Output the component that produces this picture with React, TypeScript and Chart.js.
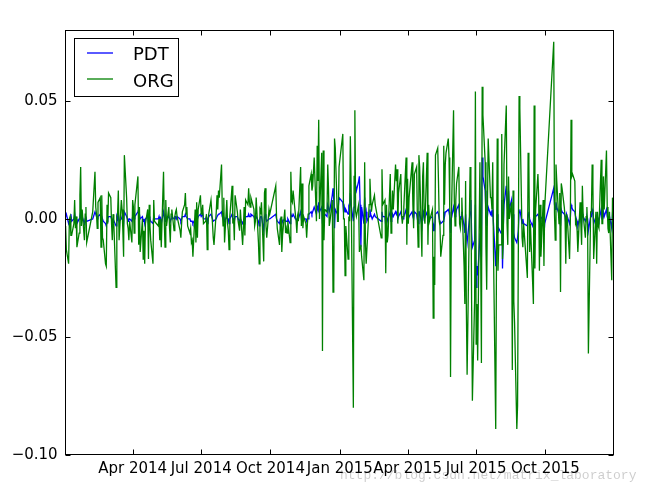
import React, { useEffect, useRef } from "react";
import { Chart, registerables } from "chart.js";

Chart.register(...registerables);

// ---------- data ----------
const SERIES_LABELS = ["PDT", "ORG"];
const SERIES_COLORS = ["#0000ff", "#008000"];

const FIRST_DAY = "2014-01-02";
const LAST_DAY = "2015-12-31";

// market closures (plus two days missing in the data after the October 2015 holiday)
const HOLIDAYS = [
  "2014-01-01", "2014-01-31", "2014-02-03", "2014-02-04", "2014-02-05", "2014-02-06",
  "2014-04-07", "2014-05-01", "2014-05-02", "2014-06-02", "2014-09-08",
  "2014-10-01", "2014-10-02", "2014-10-03", "2014-10-06", "2014-10-07",
  "2015-01-01", "2015-01-02", "2015-02-18", "2015-02-19", "2015-02-20", "2015-02-23", "2015-02-24",
  "2015-04-06", "2015-05-01", "2015-06-22", "2015-09-03", "2015-09-04",
  "2015-10-01", "2015-10-02", "2015-10-05", "2015-10-06", "2015-10-07", "2015-10-08", "2015-10-09",
];

const X_TICK_DATES = ["2014-04-01", "2014-07-01", "2014-10-01", "2015-01-01", "2015-04-01", "2015-07-01", "2015-10-01"];
const X_TICK_LABELS = ["Apr 2014", "Jul 2014", "Oct 2014", "Jan 2015", "Apr 2015", "Jul 2015", "Oct 2015"];
const Y_TICKS = [-0.1, -0.05, 0, 0.05];
const Y_MIN = -0.1;
const Y_MAX = 0.08;

// values in thousandths, one list per month (trading days in order)
const ORG_2014 = [
  [-3, -13, -19, 0, 1, -7, -7, -2, 8, -4, 1, -12, -6, 10, 22, -3, 4, -9, 2, 5, -10],
  [3, 20, 5, 2, -4, 7, 9, -12, 10, -8, -9, -19, -20, 6, -2, 11],
  [9, -2, -9, 2, -2, -29, 1, 2, 12, -9, 8, 4, -5, -16, 27, 9, -2, -4, -9, -1, -10],
  [8, 5, -6, 6, 18, -11, 5, -14, 0, -17, -5, -19, -2, 4, -17, 6, -3, -9, -19, 8, -1],
  [-3, 0, -9, 0, -12, 20, -1, -12, 8, -3, 5, -4, -10, 2, 4, -5, 1, 3, 4, 1],
  [-5, -8, -2, 3, 6, 11, 2, 5, -3, -6, -4, -10, -9, -16, 4, -10, 7, -8, 4, 10],
  [2, 3, 6, -2, -1, 2, -13, -2, 2, 8, 3, -2, -8, -11, 3, 10, 4, 12, 9, 23, 4, -3, 9],
  [-10, 8, -2, -5, -13, 1, 14, -2, 0, -9, 10, 3, -1, -3, -5, 4, -11, -4, 5, -7, 8],
  [6, 13, 7, 5, 9, 4, -3, -1, 9, -10, -19, 4, 3, 7, -18, 11, 13, -3, -8, 4, 2],
  [14, 1, -4, -11, -2, 1, -14, -7, 4, -6, -4, -6, -1, -10, 20, 8, 7, 12],
  [2, -1, -6, 1, -1, 22, -3, 15, -4, 1, -2, -8, -2, 2, 14, 19, 12, 14, 20, 26],
  [-1, 31, 16, 42, 0, 28, -56, 29, -9, 4, 3, 23, 13, -3, -1, 8, -31, -29, 34, 30, -1, -1, 22],
];

const ORG_2015 = [
  [36, 0, 0, -24, -3, -17, 1, -1, 35, 14, -80, 18, 46, 3, 1, 6, -14, -12, -11, -16],
  [-26, 24, -10, -19, -19, 6, 17, 9, 3, 6, 10, 6, -8, 21, 6],
  [8, -23, 6, -10, -7, 19, -6, 2, 12, 4, 23, 16, 21, -2, 11, 19, 2, -2, 1, 5, 26, -11],
  [17, -2, 9, 24, 6, -4, 19, 22, 0, -12, 27, 22, -16, 18, 24, 1, -2, 28, -11, 6, -1],
  [4, -42, -16, -28, 27, 30, 16, -1, -3, -16, -7, 31, 6, 23, 28, 34, 26, 3, -67, -2],
  [46, 8, -3, 8, 15, 22, -2, -4, 0, 9, -20, -36, 16, -38, -66, 22, 18, -36, -77, -34, 54],
  [-53, -36, -60, 24, -13, -61, 56, 44, 24, -12, -30, 5, 34, 9, 9, 4, 24, -13, -89, -17, 34, -22, -11],
  [-11, 36, -17, -10, 23, 48, -2, -11, 18, 0, 7, -64, 12, -35, -44, -89, -79, -13, 52, 47, -8],
  [-12, -2, -25, 28, 23, -14, -2, -27, -36, 48, -21, 4, 19, 9, -22, 6, -16, 8, -20, 5],
  [75, 2, -9, 23, 16, -2, 11, -31, 15, 13, 5, 1, -19, 2, 0],
  [-17, -2, 42, 18, 19, 16, -2, -1, -5, -14, 7, -2, -11, 14, 2, -8, 1, 5, -4, -57, 3],
  [3, 23, 14, -17, 3, -19, 3, -3, -4, 25, -2, -2, 18, 4, 29, 5, -4, -6, 3, -26, 9, 0, -9],
];

const PDT_2014 = [
  [1, 2, -2, -1, 0, 2, -1, 0, 2, -1, 0, -2, 0, 1, 3, 0, 1, -2, 0, 1, -1],
  [0, 3, 2, 1, 0, 1, 2, -1, 1, 0, -1, -2, -3, -1, 0, 1],
  [1, 0, -1, 0, 0, -3, 1, 0, 2, -1, 0, 1, 0, -2, 3, 1, 0, -1, 0, 0, -1],
  [1, 2, 0, 1, 3, 4, 2, 0, 1, -1, 0, -2, 0, 1, -2, 1, 0, -1, -2, 1, 0],
  [0, 1, -1, 0, -2, 3, 1, -1, 1, 0, 1, 0, -1, 0, 1, 0, 1, 1, 0, 1],
  [0, -1, 0, 1, 1, 2, 1, 1, 0, 0, -1, -1, -1, -2, 0, -1, 1, 0, 1, 2],
  [1, 1, 2, 0, 0, 1, -2, 0, 1, 2, 1, 0, -1, -1, 0, 1, 1, 2, 2, 3, 1, 0, 1],
  [-1, 1, 0, 0, -2, 0, 2, 0, 0, -1, 1, 1, 0, 0, -1, 0, -2, -1, 0, -1, 1],
  [1, 2, 1, 1, 2, 1, 0, 0, 1, -1, -3, 0, 1, 1, -5, 1, 2, 0, -1, 0, 0],
  [2, 0, -1, -2, 0, 0, -2, -1, 0, -1, -1, -1, 0, -2, 2, 1, 1, 2],
  [0, 0, -1, 0, 0, 3, 0, 2, 0, 0, 0, -1, 0, 0, 2, 3, 2, 3, 4, 5],
  [2, 5, 4, 7, 3, 5, -2, 3, 1, 2, 1, 6, 5, 3, 4, 10, 13, 8, -4, 4, 2, 5, 9],
];

const PDT_2015 = [
  [7, 3, 5, 3, 4, 2, 5, 4, 11, 6, -1, 5, 10, 14, 12, 16, 18, 6, -12, 5],
  [-2, 9, 1, 3, -1, 1, 4, 2, 1, 0, 2, 1, -1, 3, 1],
  [1, -3, 1, -1, 0, 3, -1, 0, 2, 1, 3, 2, 3, 0, 1, 3, 1, 0, 0, 1, 4, -1],
  [2, 0, 1, 3, 1, 0, 3, 2, 0, -2, 3, 3, -3, 2, 3, 0, 0, 3, -2, 1, 0],
  [1, -5, -3, -4, 2, 3, 2, 0, 0, -2, -1, 3, 1, 3, 3, 4, 3, 1, -6, 0],
  [5, 3, 1, 2, 4, 6, 1, 0, 1, 3, -3, -6, 2, -7, -10, 3, 8, -6, -12, -9, 6],
  [-29, -20, -24, -8, -10, -16, 26, 18, 12, 2, -3, 1, 5, 2, 3, 1, 4, -2, -20, -12, 2, -6, -4],
  [-6, 8, -21, -4, 6, 14, 6, 3, 12, 4, 8, -10, 2, -6, -8, -10, -8, -5, 3, 4, -2],
  [0, -2, -3, 2, 3, 0, -1, -3, -1, 4, 0, 1, 2, 1, -1, 1, 0, 1, -7, -2],
  [13, 6, 4, 7, 5, 2, 4, -3, 4, 3, 2, 1, -2, 2, 1],
  [-2, 0, 6, 5, 4, 3, 1, 0, -1, -3, 1, 0, -2, 3, 1, -1, 0, 1, 0, -5, 1],
  [1, 4, 3, -2, 1, -3, 1, 0, -1, 4, 0, 0, 3, 1, 4, 1, 0, -1, 1, -4, 2, 1, -1],
];

const WATERMARK = "http://blog.csdn.net/matrix_laboratory";

// ---------- helpers ----------
const MS_PER_DAY = 86400000;
const EPOCH = Date.UTC(2014, 0, 1);
const FONT = "'DejaVu Sans', 'Liberation Sans', sans-serif";

function dayIndex(iso: string): number {
  const [y, m, d] = iso.split("-").map(Number);
  return Math.round((Date.UTC(y, m - 1, d) - EPOCH) / MS_PER_DAY);
}

const HOLIDAY_SET = new Set(HOLIDAYS);

function tradingDays(year: number, month: number): number[] {
  const out: number[] = [];
  const n = new Date(Date.UTC(year, month + 1, 0)).getUTCDate();
  for (let d = 1; d <= n; d++) {
    const t = Date.UTC(year, month, d);
    const wd = new Date(t).getUTCDay();
    if (wd === 0 || wd === 6) continue;
    const iso = `${year}-${String(month + 1).padStart(2, "0")}-${String(d).padStart(2, "0")}`;
    if (HOLIDAY_SET.has(iso)) continue;
    out.push(Math.round((t - EPOCH) / MS_PER_DAY));
  }
  return out;
}

function buildSeries(byYear: [number, number[][]][]) {
  const pts: { x: number; y: number }[] = [];
  for (const [year, months] of byYear) {
    months.forEach((vals, m) => {
      const days = tradingDays(year, m);
      const n = Math.min(days.length, vals.length);
      for (let i = 0; i < n; i++) pts.push({ x: days[i], y: vals[i] / 1000 });
    });
  }
  return pts;
}

const X_TICK_DAYS = X_TICK_DATES.map(dayIndex);

function formatY(v: number): string {
  if (Math.abs(v) < 1e-9) return "0.00";
  return (v < 0 ? "\u2212" : "") + Math.abs(v).toFixed(2);
}

const framePlugin = {
  id: "mplFrame",
  afterDraw(chart: any) {
    const { ctx, chartArea: a, scales } = chart;
    const L = Math.floor(a.left) + 0.5;
    const R = Math.round(a.right) - 0.5;
    const T = Math.floor(a.top) + 0.5;
    const B = Math.round(a.bottom) - 0.5;
    ctx.save();
    ctx.strokeStyle = "#000";
    ctx.lineWidth = 1;
    ctx.beginPath();
    // inward tick marks
    for (const d of X_TICK_DAYS) {
      const px = Math.round(scales.x.getPixelForValue(d)) + 0.5;
      ctx.moveTo(px, B);
      ctx.lineTo(px, B - 5);
      ctx.moveTo(px, T);
      ctx.lineTo(px, T + 5);
    }
    for (const v of Y_TICKS) {
      const py = Math.round(scales.y.getPixelForValue(v)) + 0.5;
      ctx.moveTo(L, py);
      ctx.lineTo(L + 5, py);
      ctx.moveTo(R, py);
      ctx.lineTo(R - 5, py);
    }
    ctx.stroke();
    ctx.strokeRect(L, T, R - L, B - T);

    // legend box
    const bx = 74.5, by = 38.5, bw = 104, bh = 58;
    ctx.fillStyle = "#fff";
    ctx.fillRect(bx, by, bw, bh);
    ctx.strokeStyle = "#000";
    ctx.strokeRect(bx, by, bw, bh);
    const rows = [53, 79];
    const bases = [60, 87];
    SERIES_LABELS.forEach((label, i) => {
      ctx.strokeStyle = SERIES_COLORS[i];
      ctx.lineWidth = 1.3;
      ctx.beginPath();
      ctx.moveTo(87, rows[i]);
      ctx.lineTo(113, rows[i]);
      ctx.stroke();
      ctx.fillStyle = "#000";
      ctx.font = `18px ${FONT}`;
      ctx.textBaseline = "alphabetic";
      ctx.textAlign = "left";
      ctx.fillText(label, 133, bases[i]);
    });

    // watermark
    ctx.fillStyle = "rgba(0,0,0,0.2)";
    ctx.font = "13px 'Liberation Mono', 'DejaVu Sans Mono', monospace";
    ctx.textBaseline = "alphabetic";
    ctx.textAlign = "left";
    ctx.fillText(WATERMARK, 340, 479);
    ctx.restore();
  },
};

export default function App() {
  const ref = useRef<HTMLCanvasElement | null>(null);

  useEffect(() => {
    if (!ref.current) return;
    const pdt = buildSeries([[2014, PDT_2014], [2015, PDT_2015]]);
    const org = buildSeries([[2014, ORG_2014], [2015, ORG_2015]]);
    const chart = new Chart(ref.current, {
      type: "line",
      data: {
        datasets: [
          {
            label: SERIES_LABELS[0],
            data: pdt,
            borderColor: SERIES_COLORS[0],
            borderWidth: 1.3,
            pointRadius: 0,
            tension: 0,
            fill: false,
            order: 1,
          },
          {
            label: SERIES_LABELS[1],
            data: org,
            borderColor: SERIES_COLORS[1],
            borderWidth: 1.3,
            pointRadius: 0,
            tension: 0,
            fill: false,
            order: 0,
          },
        ],
      },
      options: {
        animation: false,
        responsive: false,
        maintainAspectRatio: false,
        devicePixelRatio: 1,
        events: [],
        layout: { padding: { left: 8.6, right: 36, top: 30, bottom: 0 } },
        plugins: { legend: { display: false }, tooltip: { enabled: false } },
        scales: {
          x: {
            type: "linear",
            min: dayIndex(FIRST_DAY),
            max: dayIndex(LAST_DAY),
            grid: { display: false, drawTicks: false },
            border: { display: false },
            afterBuildTicks: (ax: any) => {
              ax.ticks = X_TICK_DAYS.map((v) => ({ value: v }));
            },
            afterFit: (ax: any) => {
              ax.height = 35;
            },
            ticks: {
              autoSkip: false,
              maxRotation: 0,
              minRotation: 0,
              padding: 5,
              color: "#000",
              font: { family: FONT, size: 15 },
              callback: (v: any) => {
                const i = X_TICK_DAYS.indexOf(Number(v));
                return i >= 0 ? X_TICK_LABELS[i] : "";
              },
            },
          },
          y: {
            type: "linear",
            min: Y_MIN,
            max: Y_MAX,
            grid: { display: false, drawTicks: false },
            border: { display: false },
            afterBuildTicks: (ax: any) => {
              ax.ticks = Y_TICKS.map((v) => ({ value: v }));
            },
            afterFit: (ax: any) => {
              ax.width = 57;
            },
            ticks: {
              padding: 8,
              color: "#000",
              font: { family: FONT, size: 15 },
              callback: (v: any) => formatY(Number(v)),
            },
          },
        },
      },
      plugins: [framePlugin],
    } as any);
    return () => chart.destroy();
  }, []);

  return (
    <div style={{ position: "fixed", left: 0, top: 0, width: 650, height: 490, background: "#fff" }}>
      <canvas ref={ref} width={650} height={490} style={{ display: "block", width: 650, height: 490 }} />
    </div>
  );
}
